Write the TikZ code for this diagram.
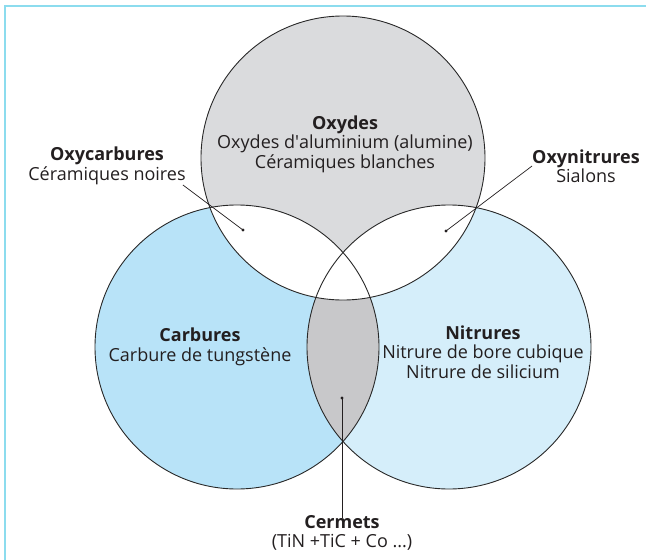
\documentclass[tikz,border=0pt]{standalone}
\usepackage{fontspec}
\setmainfont{Open Sans}
\usepackage{tikz}
\definecolor{vframe}{RGB}{140,220,238}
\definecolor{vgray}{RGB}{218,219,221}
\definecolor{vlens}{RGB}{200,200,202}
\definecolor{vblue}{RGB}{184,227,248}
\definecolor{vlight}{RGB}{213,238,250}
\definecolor{vline}{RGB}{40,40,40}
\definecolor{vtext}{RGB}{35,31,32}

\begin{document}
\begin{tikzpicture}[x=1pt, y=-1pt, font=\fontsize{18}{19.5}\selectfont,
    lbl/.style={text=vtext, align=center, inner sep=0pt},
    leader/.style={vtext, line width=0.7pt}]
  \useasboundingbox (0,0) rectangle (646,560);
  \draw[vframe, line width=2pt] (5,560) -- (5,6) -- (646,6);
  \coordinate (oxy) at (343,158);
  \coordinate (carb) at (237,347);
  \coordinate (nitr) at (449,347);
  % discs and their overlaps
  \fill[vblue] (carb) circle (142pt);
  \fill[vlight] (nitr) circle (142pt);
  \begin{scope}
    \clip (carb) circle (142pt);
    \fill[vlens] (nitr) circle (142pt);
  \end{scope}
  \fill[vgray] (oxy) circle (142pt);
  \begin{scope}
    \clip (oxy) circle (142pt);
    \fill[white] (carb) circle (142pt);
    \fill[white] (nitr) circle (142pt);
  \end{scope}
  \draw[vline, line width=0.9pt] (oxy) circle (142pt);
  \draw[vline, line width=0.9pt] (carb) circle (142pt);
  \draw[vline, line width=0.9pt] (nitr) circle (142pt);
  % texts
  \node[lbl] (oxydes) at (345,144)
    {\textbf{Oxydes}\\Oxydes d\textquotesingle aluminium (alumine)\\Céramiques blanches};
  \node[lbl] (carbures) at (200,347) {\textbf{Carbures}\\Carbure de tungstène};
  \node[lbl] (nitrures) at (483,352)
    {\textbf{Nitrures}\\Nitrure de bore cubique\\Nitrure de silicium};
  \node[lbl] (oxycarb) at (107,166) {\textbf{Oxycarbures}\\Céramiques noires};
  \node[lbl] (oxynit) at (586,166) {\textbf{Oxynitrures}\\Sialons};
  \node[lbl] (cermets) at (342,533) {\textbf{Cermets}\\(TiN +TiC + Co ...)};
  % leaders
  \coordinate (ocdot) at (243,230);
  \coordinate (ondot) at (446,231);
  \coordinate (cmdot) at (342,398);
  \fill[vtext] (ocdot) circle (1.6pt);
  \fill[vtext] (ondot) circle (1.6pt);
  \fill[vtext] (cmdot) circle (1.6pt);
  \draw[leader] ([xshift=-3pt]oxycarb.south east) -- (ocdot);
  \draw[leader] (oxynit.west) -- (ondot);
  \draw[leader] ([yshift=-3pt]cermets.north) -- (cmdot);
\end{tikzpicture}
\end{document}
